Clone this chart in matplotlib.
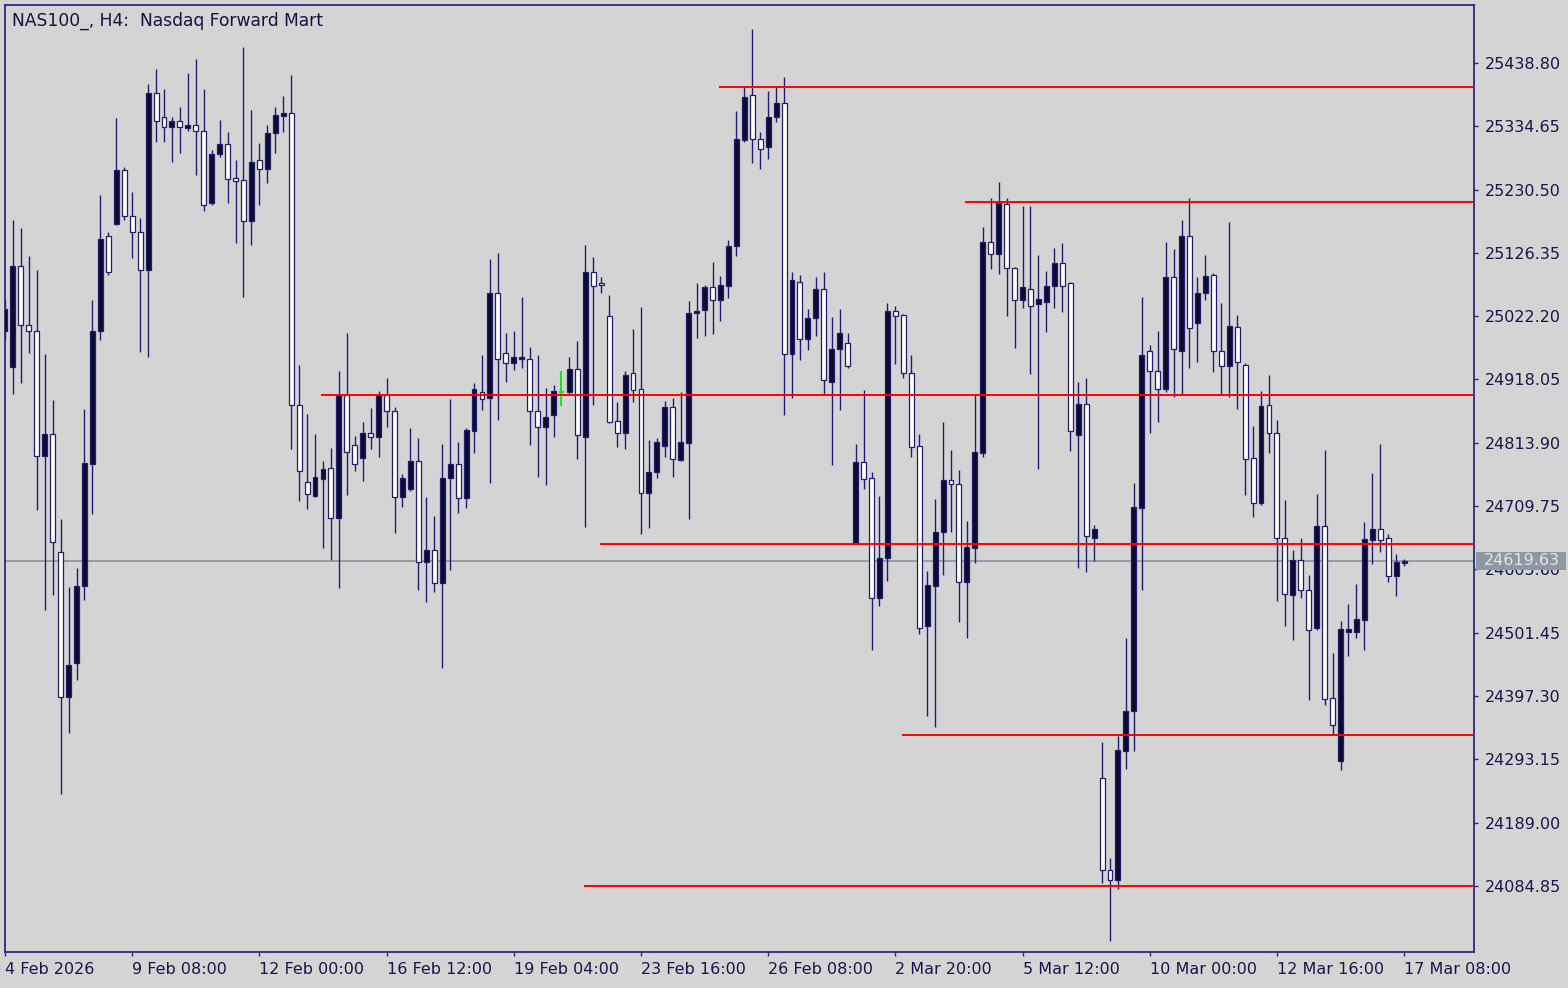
import matplotlib
matplotlib.use("Agg")
import matplotlib.pyplot as plt
import numpy as np
from matplotlib.transforms import blended_transform_factory
from matplotlib.patches import Rectangle

# ---------------- data (H4 candles) ----------------
opens = [24998, 24939, 25105, 25008, 24998, 24792, 24828, 24634, 24396, 24452,
         24578, 24779, 24998, 25154, 25174, 25263, 25187, 25161, 25098, 25389,
         25350, 25333, 25343, 25332, 25337, 25327, 25208, 25289, 25306, 25250,
         25246, 25179, 25279, 25264, 25324, 25352, 25357, 24876, 24749, 24726,
         24754, 24772, 24690, 24893, 24810, 24789, 24830, 24823, 24893, 24866,
         24725, 24738, 24784, 24618, 24637, 24583, 24756, 24779, 24723, 24833,
         24897, 24888, 25060, 24962, 24945, 24952, 24952, 24866, 24840, 24860,
         24897, 24897, 24935, 24823, 25095, 25077, 25022, 24850, 24830, 24929,
         24902, 24731, 24766, 24809, 24873, 24786, 24814, 25027, 25032, 25070,
         25049, 25072, 25138, 25312, 25386, 25314, 25301, 25350, 25373, 24960,
         25078, 24985, 25019, 25067, 24914, 24968, 24978, 24649, 24782, 24756,
         24558, 24624, 25031, 25024, 24929, 24809, 24512, 24578, 24667, 24753,
         24746, 24585, 24641, 24797, 25144, 25125, 25207, 25101, 25049, 25067,
         25042, 25046, 25072, 25110, 25077, 24827, 24878, 24657, 24262, 24111,
         24095, 24307, 24373, 24707, 24965, 24932, 24902, 25087, 24965, 25154,
         25011, 25060, 25090, 24965, 24940, 25004, 24942, 24789, 24715, 24876,
         24830, 24657, 24563, 24621, 24572, 24509, 24677, 24394, 24290, 24503,
         24503, 24522, 24654, 24672, 24657, 24595, 24616]
highs = [25049, 25180, 25167, 25121, 25098, 24960, 24884, 24688, 24577, 24608,
         24869, 25049, 25222, 25161, 25348, 25268, 25227, 25184, 25404, 25429,
         25396, 25350, 25366, 25422, 25445, 25396, 25296, 25345, 25325, 25279,
         25465, 25361, 25307, 25337, 25366, 25384, 25419, 24942, 24861, 24828,
         24784, 24805, 24932, 24995, 24825, 24848, 24871, 24899, 24920, 24873,
         24763, 24838, 24822, 24725, 24693, 24812, 24886, 24815, 24838, 24912,
         24958, 25116, 25126, 24995, 24998, 25054, 24971, 24958, 24904, 24909,
         24932, 24955, 24981, 25139, 25120, 25087, 25057, 24881, 24932, 25001,
         25037, 24818, 24822, 24882, 24888, 24897, 25047, 25077, 25073, 25111,
         25088, 25148, 25360, 25399, 25495, 25325, 25393, 25399, 25416, 25095,
         25090, 25034, 25087, 25095, 25021, 25034, 24995, 24812, 24901, 24766,
         24726, 25044, 25039, 25026, 24958, 24828, 24603, 24721, 24848, 24802,
         24769, 24685, 24893, 25169, 25217, 25243, 25217, 25103, 25203, 25203,
         25123, 25097, 25134, 25143, 25079, 24914, 24920, 24679, 24322, 24131,
         24331, 24493, 24748, 25054, 24975, 24998, 25144, 25133, 25180, 25216,
         25087, 25123, 25093, 25044, 25177, 25024, 24945, 24842, 24899, 24925,
         24851, 24720, 24637, 24657, 24596, 24730, 24802, 24468, 24521, 24549,
         24581, 24684, 24764, 24812, 24664, 24631, 24622]
lows = [24983, 24894, 24912, 24962, 24703, 24539, 24563, 24236, 24336, 24424,
        24555, 24697, 24983, 25090, 25172, 25180, 25118, 24963, 24955, 25309,
        25309, 25276, 25291, 25327, 25254, 25195, 25205, 25284, 25208, 25143,
        25054, 25139, 25205, 25241, 25291, 25325, 24804, 24718, 24705, 24724,
        24641, 24621, 24575, 24728, 24768, 24751, 24804, 24791, 24840, 24665,
        24708, 24735, 24572, 24552, 24568, 24443, 24605, 24698, 24707, 24797,
        24868, 24748, 24851, 24914, 24934, 24937, 24810, 24758, 24744, 24823,
        24874, 24894, 24787, 24675, 24876, 25060, 24846, 24807, 24804, 24881,
        24664, 24674, 24756, 24791, 24758, 24784, 24688, 24986, 24990, 24993,
        25014, 25052, 25121, 25309, 25274, 25264, 25281, 25342, 24860, 24888,
        24950, 24967, 24990, 24893, 24777, 24868, 24937, 24647, 24738, 24473,
        24545, 24586, 24944, 24920, 24791, 24499, 24364, 24346, 24596, 24667,
        24519, 24493, 24616, 24791, 25100, 25092, 25022, 24970, 25036, 24927,
        24771, 24996, 25036, 25029, 24800, 24608, 24601, 24619, 24090, 23994,
        24080, 24277, 24307, 24572, 24830, 24848, 24897, 24889, 24894, 24937,
        24947, 25049, 24930, 24893, 24889, 24869, 24728, 24692, 24711, 24797,
        24553, 24512, 24489, 24558, 24391, 24506, 24382, 24335, 24276, 24463,
        24493, 24473, 24614, 24634, 24585, 24562, 24611]
closes = [25034, 25105, 25008, 24998, 24792, 24828, 24651, 24396, 24448, 24578,
          24781, 24998, 25149, 25095, 25263, 25187, 25161, 25098, 25389, 25343,
          25333, 25343, 25333, 25337, 25327, 25205, 25289, 25306, 25248, 25245,
          25179, 25276, 25264, 25324, 25353, 25357, 24876, 24768, 24730, 24758,
          24771, 24690, 24893, 24799, 24779, 24830, 24823, 24893, 24866, 24725,
          24756, 24784, 24618, 24637, 24583, 24756, 24779, 24723, 24835, 24902,
          24886, 25060, 24952, 24945, 24955, 24955, 24866, 24840, 24856, 24899,
          24897, 24935, 24827, 25095, 25072, 25073, 24848, 24830, 24925, 24901,
          24731, 24766, 24815, 24873, 24787, 24815, 25027, 25031, 25070, 25049,
          25073, 25138, 25314, 25383, 25314, 25297, 25350, 25373, 24960, 25082,
          24985, 25019, 25067, 24917, 24968, 24995, 24940, 24782, 24754, 24558,
          24624, 25031, 25022, 24929, 24807, 24509, 24580, 24667, 24753, 24746,
          24585, 24642, 24799, 25144, 25125, 25208, 25101, 25049, 25070, 25039,
          25050, 25072, 25110, 25072, 24833, 24878, 24660, 24672, 24111, 24095,
          24308, 24373, 24708, 24958, 24932, 24902, 25087, 24968, 25154, 25003,
          25060, 25088, 24965, 24940, 25006, 24947, 24787, 24715, 24874, 24830,
          24657, 24565, 24621, 24572, 24506, 24677, 24392, 24350, 24508, 24508,
          24524, 24656, 24672, 24654, 24595, 24618, 24619.63]

# horizontal support / resistance levels: price and bar index where they start
level_prices = [25399, 25210, 24893, 24647, 24333, 24085]
level_start_bar = [89.8, 120.8, 39.7, 74.8, 112.8, 72.8]

current_price = 24619.63

price_ticks = [25438.80, 25334.65, 25230.50, 25126.35, 25022.20, 24918.05,
               24813.90, 24709.75, 24605.60, 24501.45, 24397.30, 24293.15,
               24189.00, 24084.85]
time_tick_bars = [0, 16, 32, 48, 64, 80, 96, 112, 128, 144, 160, 176]
time_tick_labels = ["4 Feb 2026", "9 Feb 08:00", "12 Feb 00:00", "16 Feb 12:00",
                    "19 Feb 04:00", "23 Feb 16:00", "26 Feb 08:00", "2 Mar 20:00",
                    "5 Mar 12:00", "10 Mar 00:00", "12 Mar 16:00", "17 Mar 08:00"]
title = "NAS100_, H4:  Nasdaq Forward Mart"

# ---------------- style ----------------
BG = "#d4d4d4"
NAVY = "#1e1e6e"
BULL_FILL = "#0b0b30"
BEAR_FILL = "#ffffff"
TXT = "#16164a"
plt.rcParams["font.family"] = ["DejaVu Sans"]

W, H = 1568, 988
fig = plt.figure(figsize=(W / 100, H / 100), dpi=100)
fig.patch.set_facecolor(BG)
ax = fig.add_axes([5 / W, 36 / H, 1469 / W, 947 / H])
ax.set_facecolor(BG)

o = np.array(opens, float)
hi = np.array(highs, float)
lo = np.array(lows, float)
c = np.array(closes, float)
x = np.arange(len(o))
bull = c > o
bear = c < o
doji = c == o

ax.vlines(x[~doji], lo[~doji], hi[~doji], color=NAVY, lw=1.0, zorder=2)
ax.bar(x[bull], (c - o)[bull], bottom=o[bull], width=0.62, color=BULL_FILL,
       edgecolor=NAVY, linewidth=0.9, zorder=3)
ax.bar(x[bear], (o - c)[bear], bottom=c[bear], width=0.62, color=BEAR_FILL,
       edgecolor=NAVY, linewidth=0.9, zorder=3)
ax.vlines(x[doji], lo[doji], hi[doji], color="#22e022", lw=1.5, zorder=3)
ax.hlines(o[doji], x[doji] - 0.31, x[doji] + 0.31, color="#22e022", lw=1.5, zorder=3)

XMIN, XMAX = 0.126, 184.79
YMIN, YMAX = 23976.1, 25534.2
ax.set_xlim(XMIN, XMAX)
ax.set_ylim(YMIN, YMAX)

# current price line
ax.axhline(current_price, color="#8e9aa6", lw=1.3, zorder=1)

# red levels
for p, s in zip(level_prices, level_start_bar):
    ax.hlines(p, s, XMAX, color="#ff0000", lw=1.4, zorder=4)

# axes frame
for sp in ax.spines.values():
    sp.set_color("#2a2a7e")
    sp.set_linewidth(1.3)

# price axis on the right
ax.yaxis.tick_right()
ax.set_yticks(price_ticks)
ax.set_yticklabels([f"{v:.2f}" for v in price_ticks])
ax.tick_params(axis="y", direction="out", length=3, width=1, color="#2a2a7e",
               labelcolor=TXT, labelsize=11.5, pad=5)

# time axis
ax.set_xticks(time_tick_bars)
ax.set_xticklabels(time_tick_labels)
ax.tick_params(axis="x", direction="out", length=3, width=1, color="#2a2a7e",
               labelcolor=TXT, labelsize=11.5, pad=4)
for lab in ax.get_xticklabels():
    lab.set_horizontalalignment("left")

# current price label box on the axis (covers the tick label beneath, as in MT4)
tr = blended_transform_factory(ax.transAxes, ax.transData)
box_h = 18 * (YMAX - YMIN) / 947
ax.add_patch(Rectangle((1.0014, current_price - box_h / 2), 0.0612, box_h,
                       transform=tr, clip_on=False, facecolor="#8e98a2",
                       edgecolor="none", zorder=10))
ax.text(1.0068, current_price, f"{current_price:.2f}", transform=tr,
        ha="left", va="center", fontsize=11.5, color="#e4e4e4",
        clip_on=False, zorder=11)

# title
ax.text(7 / 1469, 1 - 7 / 947, title, transform=ax.transAxes, ha="left",
        va="top", fontsize=12.3, color="#141440", zorder=12)

fig.savefig("out.png", dpi=100, facecolor=BG)
